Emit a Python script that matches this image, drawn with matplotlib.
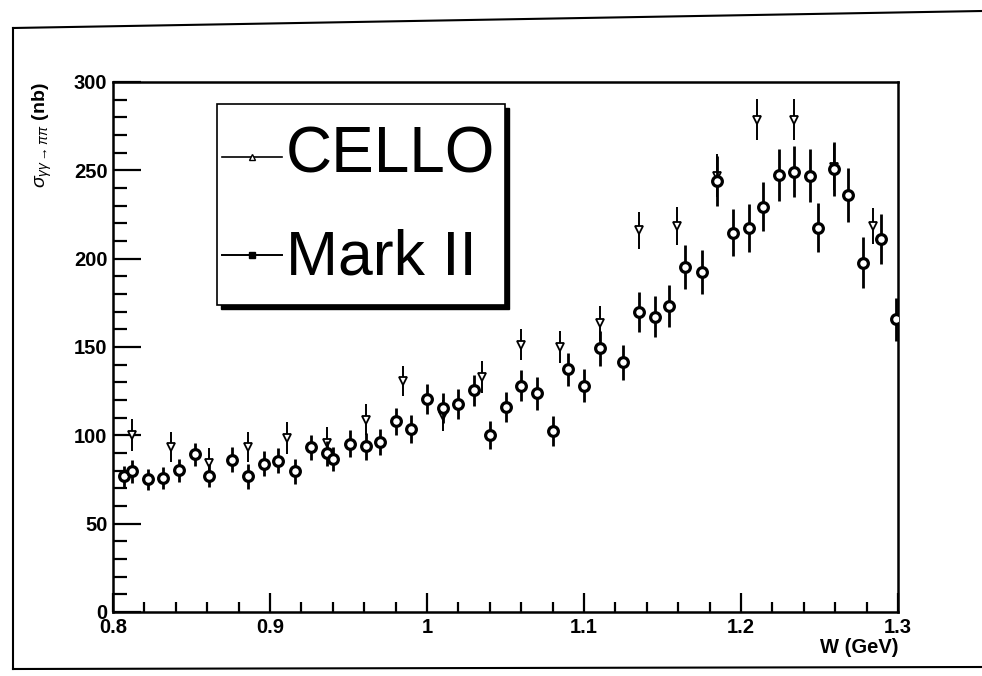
import matplotlib.pyplot as plt
from matplotlib.lines import Line2D
from matplotlib.patches import Rectangle
from matplotlib.ticker import MultipleLocator

plt.rcParams['font.family'] = ['Liberation Sans', 'DejaVu Sans']
plt.rcParams['mathtext.fontset'] = 'custom'
plt.rcParams['mathtext.rm'] = 'Liberation Sans'
plt.rcParams['mathtext.it'] = 'Liberation Sans:italic'

# Mark II (open circles)
mark2_w = [0.807, 0.812, 0.822, 0.832, 0.842, 0.852, 0.861, 0.876, 0.886, 0.896,
           0.905, 0.916, 0.926, 0.936, 0.940, 0.951, 0.961, 0.970, 0.980, 0.990,
           1.000, 1.010, 1.020, 1.030, 1.040, 1.050, 1.060, 1.070, 1.080, 1.090,
           1.100, 1.110, 1.125, 1.135, 1.145, 1.154, 1.164, 1.175, 1.185, 1.195,
           1.205, 1.214, 1.224, 1.234, 1.244, 1.249, 1.259, 1.268, 1.278, 1.289,
           1.299]
mark2_sigma = [76.7, 79.6, 75.2, 75.8, 80.2, 89.4, 77.1, 86.2, 76.7, 84.0,
               85.6, 79.6, 93.2, 89.8, 86.6, 95.3, 93.8, 96.2, 107.9, 103.6,
               120.8, 115.5, 118.0, 125.4, 100.0, 116.1, 128.2, 123.7, 102.5, 137.3,
               128.2, 149.2, 141.4, 169.8, 167.2, 173.2, 195.3, 192.5, 244.0, 214.8,
               217.1, 229.5, 247.3, 249.2, 246.9, 217.6, 250.7, 236.0, 197.8, 211.0,
               165.6]
mark2_err = [6, 6.5, 6, 6, 6.5, 6.5, 6.5, 7, 7, 7,
             7, 7, 7, 7, 7, 7.5, 7.5, 7.5, 7.5, 8,
             8.5, 8.5, 8.5, 9, 8, 8.5, 9, 9.5, 8.3, 9.5,
             9.6, 10, 10, 11.5, 11.4, 11.8, 12.4, 12.3, 14, 13.2,
             13.6, 14, 14.5, 14.5, 15, 13.7, 15.5, 15.3, 14.2, 14.2,
             12]

# CELLO (open triangles)
cello_w = [0.812, 0.837, 0.861, 0.886, 0.911, 0.936, 0.961, 0.985, 1.010, 1.035,
           1.060, 1.085, 1.110, 1.135, 1.159, 1.185, 1.210, 1.234, 1.259, 1.284]
cello_sigma = [100.4, 93.2, 84.3, 93.2, 98.5, 95.7, 108.9, 131.0, 111.2, 133.1,
               151.4, 150.0, 163.4, 216.1, 218.5, 247.0, 278.7, 278.7, 252.0, 218.5]
cello_err = [9, 8.5, 8.5, 8.5, 9, 9, 9, 8.5, 9, 9,
             9, 9, 10, 10.5, 10.5, 12, 11.5, 11.5, 13, 10]

fig = plt.figure(figsize=(9.82, 6.76), dpi=100)
ax = fig.add_axes([0.1151, 0.0947, 0.7994, 0.784])

ax.errorbar(cello_w, cello_sigma, yerr=cello_err, fmt='v', color='black',
            ms=6, mfc='white', mec='black', mew=1.3, elinewidth=1.4,
            capsize=0, zorder=3)
ax.errorbar(mark2_w, mark2_sigma, yerr=mark2_err, fmt='o', color='black',
            ms=7, mfc='white', mec='black', mew=2.3, elinewidth=2.0,
            capsize=0, zorder=4)

ax.set_xlim(0.8, 1.3)
ax.set_ylim(0, 300)
ax.xaxis.set_minor_locator(MultipleLocator(0.02))
ax.yaxis.set_major_locator(MultipleLocator(50))
ax.yaxis.set_minor_locator(MultipleLocator(10))
ax.set_xticks([0.8, 0.9, 1.0, 1.1, 1.2, 1.3], ['0.8', '0.9', '1', '1.1', '1.2', '1.3'])
ax.tick_params(axis='both', which='both', direction='in', top=False, right=False,
               labelsize=14.5, width=1.6, pad=4)
ax.tick_params(axis='y', which='major', length=20)
ax.tick_params(axis='y', which='minor', length=10)
ax.tick_params(axis='x', which='major', length=14)
ax.tick_params(axis='x', which='minor', length=7)
for lab in ax.get_xticklabels() + ax.get_yticklabels():
    lab.set_fontweight('bold')
for sp in ax.spines.values():
    sp.set_linewidth(1.8)

ax.set_xlabel('W (GeV)', fontsize=14.5, fontweight='bold', loc='right', labelpad=1)
ax.set_ylabel(r'$\sigma_{\gamma\gamma\rightarrow\pi\pi}$ (nb)', fontsize=14,
              fontweight='bold', loc='top', labelpad=14)

# legend box drawn by hand (ROOT style with solid shadow)
ax.add_patch(Rectangle((0.138, 0.571), 0.367, 0.379, transform=ax.transAxes,
                       facecolor='black', edgecolor='black', zorder=5))
ax.add_patch(Rectangle((0.132, 0.579), 0.367, 0.379, transform=ax.transAxes,
                       facecolor='white', edgecolor='black', lw=1.2, zorder=6))
ax.add_line(Line2D([0.139, 0.177, 0.215], [0.858, 0.858, 0.858], transform=ax.transAxes,
                   color='black', lw=1.2, marker='^', markevery=[1],
                   ms=5, mfc='white', mec='black', zorder=7))
ax.add_line(Line2D([0.139, 0.177, 0.215], [0.674, 0.674, 0.674], transform=ax.transAxes,
                   color='black', lw=1.4, marker='s', markevery=[1],
                   ms=4, mfc='black', mec='black', zorder=7))
ax.text(0.220, 0.830, 'CELLO', transform=ax.transAxes, fontsize=46,
        va='baseline', ha='left', zorder=7)
ax.text(0.220, 0.636, 'Mark II', transform=ax.transAxes, fontsize=45,
        va='baseline', ha='left', zorder=7)

# scanned page border
fig.add_artist(Line2D([13 / 982, 982 / 982], [1 - 28 / 676, 1 - 11 / 676],
                      transform=fig.transFigure, color='black', lw=1.5))
fig.add_artist(Line2D([13 / 982, 13 / 982], [1 - 28 / 676, 1 - 669 / 676],
                      transform=fig.transFigure, color='black', lw=1.5))
fig.add_artist(Line2D([13 / 982, 982 / 982], [1 - 669 / 676, 1 - 667 / 676],
                      transform=fig.transFigure, color='black', lw=1.5))

fig.savefig('out.png', dpi=100)
